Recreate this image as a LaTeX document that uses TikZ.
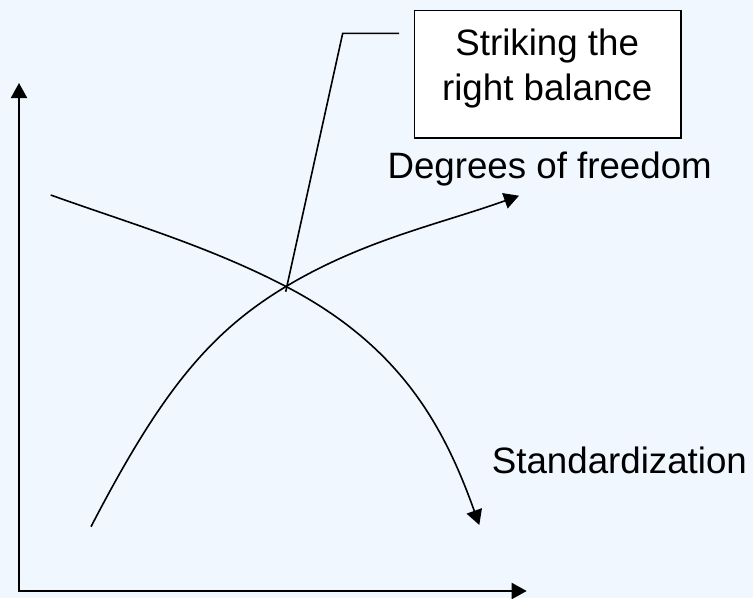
\documentclass[tikz,border=0pt]{standalone}
\usepackage{fontspec}
\setmainfont{Liberation Sans}
\usetikzlibrary{arrows.meta}
\definecolor{bgblue}{RGB}{240,247,254}
\tikzset{
  line/.style={line width=1.6pt, line join=miter},
  axisline/.style={line width=2pt, line join=miter},
  arr/.style={line, -{Triangle[length=15pt,width=16pt]}},
  lbl/.style={font=\fontsize{36.7}{45}\selectfont, inner sep=0pt},
  boxnode/.style={draw, line width=1.6pt, fill=white, minimum width=266.4pt, minimum height=127.4pt, inner sep=0pt}
}
\begin{document}
\begin{tikzpicture}[x=1pt,y=-1pt]
\fill[bgblue] (0,0) rectangle (753,598);
\useasboundingbox (0,0) rectangle (753,598);
% axes
\coordinate (origin) at (19,591);
\coordinate (ytip) at (19,83);
\coordinate (xtip) at (526.7,591);
\draw[axisline, {Triangle[length=15pt,width=16pt]}-{Triangle[length=15pt,width=16pt]}] (ytip) -- (origin) -- (xtip);
% curves
\coordinate (X) at (286,286.5);
\coordinate (stdstart) at (50.7,195);
\coordinate (stdend) at (479.3,525);
\coordinate (dofstart) at (91,526.7);
\coordinate (dofend) at (519,195.7);
\draw[arr] (stdstart) .. controls (128.7,223) and (208,245.9) .. (X)
  .. controls (401,346.3) and (444.3,427) .. (stdend);
\draw[arr] (dofstart) .. controls (160.7,392.3) and (209.2,332.6) .. (X)
  .. controls (364,239.7) and (441,223.8) .. (dofend);
% box and leader
\node[boxnode] (box) at (547.5,74) {};
\node[lbl, anchor=base] (t1) at (547.2,55) {Striking the};
\node[lbl, anchor=base] (t2) at (547.2,100) {right balance};
\coordinate (cross) at (285.7,291.7);
\coordinate (elbow) at (342.7,33.3);
\coordinate (lend) at (399,33.3);
\draw[line] (cross) -- (elbow) -- (lend);
% labels
\node[lbl, anchor=base west] (dof) at (387.3,178.3) {Degrees of freedom};
\node[lbl, anchor=base west] (std) at (491.7,473.3) {Standardization};
\end{tikzpicture}
\end{document}
